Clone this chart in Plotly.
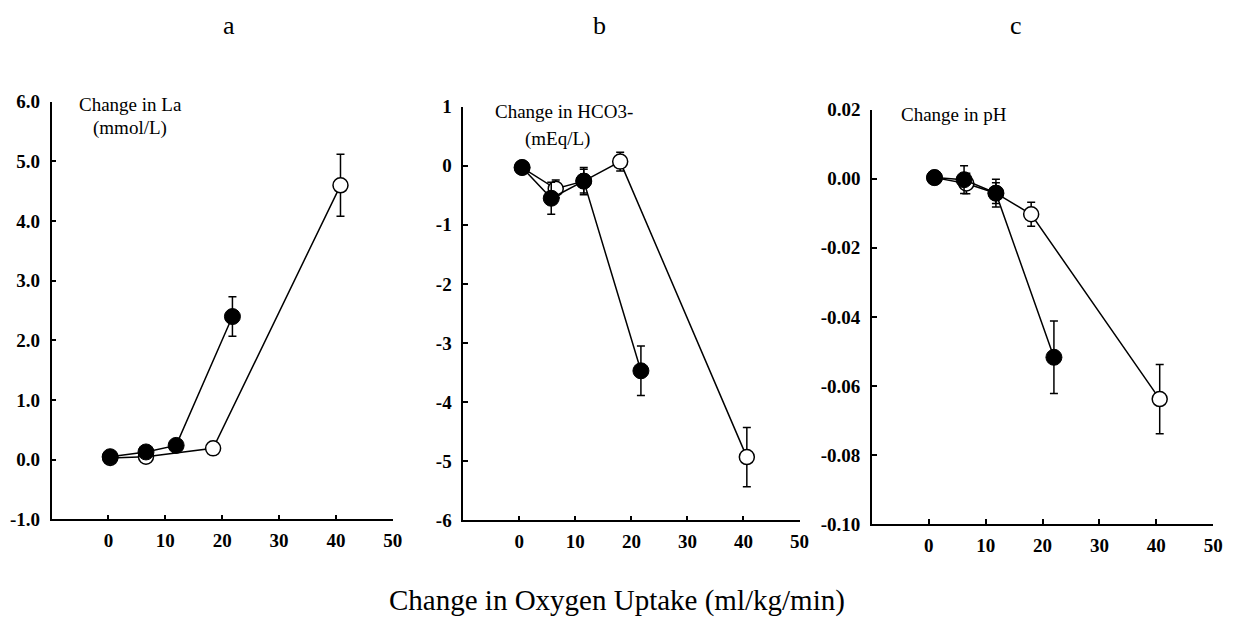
import plotly.graph_objects as go

# ---------------- data ----------------
# Panel a: Change in La (mmol/L)
a_fill_x = [0.3, 6.6, 11.9, 21.8]
a_fill_y = [0.05, 0.13, 0.24, 2.40]
a_fill_err = [0.03, 0.04, 0.05, 0.33]
a_fill_xerr = [0, 0, 0, 0.8]
a_open_x = [0.3, 6.6, 18.4, 40.8]
a_open_y = [0.03, 0.05, 0.19, 4.60]
a_open_err = [0.0, 0.03, 0.05, 0.52]

# Panel b: Change in HCO3- (mEq/L)
b_fill_x = [0.5, 5.7, 11.5, 21.7]
b_fill_y = [-0.03, -0.55, -0.26, -3.47]
b_fill_err = [0.05, 0.27, 0.23, 0.42]
b_fill_xerr = [0, 0, 0, 0.8]
b_open_x = [0.5, 6.5, 11.5, 18.0, 40.6]
b_open_y = [-0.03, -0.39, -0.26, 0.07, -4.93]
b_open_err = [0.05, 0.15, 0.20, 0.16, 0.50]

# Panel c: Change in pH
c_fill_x = [1.0, 6.2, 11.8, 22.0]
c_fill_y = [0.0003, -0.0003, -0.0042, -0.0517]
c_fill_err = [0.001, 0.004, 0.004, 0.0105]
c_fill_xerr = [0, 0, 0, 0.8]
c_open_x = [1.0, 6.6, 11.8, 18.0, 40.6]
c_open_y = [0.0003, -0.0014, -0.0042, -0.0103, -0.0638]
c_open_err = [0.001, 0.003, 0.003, 0.0035, 0.010]

x_ticks = [0, 10, 20, 30, 40, 50]
a_yticks = [-1, 0, 1, 2, 3, 4, 5, 6]
a_ylabels = ["-1.0", "0.0", "1.0", "2.0", "3.0", "4.0", "5.0", "6.0"]
b_yticks = [1, 0, -1, -2, -3, -4, -5, -6]
b_ylabels = ["1", "0", "-1", "-2", "-3", "-4", "-5", "-6"]
c_yticks = [0.02, 0.0, -0.02, -0.04, -0.06, -0.08, -0.10]
c_ylabels = ["0.02", "0.00", "-0.02", "-0.04", "-0.06", "-0.08", "-0.10"]

panel_letters = ["a", "b", "c"]
x_title = "Change in Oxygen Uptake (ml/kg/min)"

# ---------------- figure ----------------
SERIF = "Liberation Serif"
W, H = 1244, 627
fig = go.Figure()

LINE = dict(color="black", width=1.5)


def add_panel(n, ox, oy, oerr, fx, fy, ferr, fxerr):
    xa = "x" if n == 1 else f"x{n}"
    ya = "y" if n == 1 else f"y{n}"
    fig.add_trace(go.Scatter(
        x=ox, y=oy, mode="lines+markers", xaxis=xa, yaxis=ya,
        line=LINE,
        marker=dict(symbol="circle", size=15, color="white",
                    line=dict(color="black", width=1.5)),
        error_y=dict(type="data", array=oerr, color="black", thickness=1.5, width=4),
        showlegend=False, hoverinfo="skip"))
    fig.add_trace(go.Scatter(
        x=fx, y=fy, mode="lines+markers", xaxis=xa, yaxis=ya,
        line=LINE,
        marker=dict(symbol="circle", size=16, color="black",
                    line=dict(color="black", width=1)),
        error_y=dict(type="data", array=ferr, color="black", thickness=1.5, width=4),
        error_x=dict(type="data", array=fxerr, color="black", thickness=1.5, width=3),
        showlegend=False, hoverinfo="skip"))


add_panel(1, a_open_x, a_open_y, a_open_err, a_fill_x, a_fill_y, a_fill_err, a_fill_xerr)
add_panel(2, b_open_x, b_open_y, b_open_err, b_fill_x, b_fill_y, b_fill_err, b_fill_xerr)
add_panel(3, c_open_x, c_open_y, c_open_err, c_fill_x, c_fill_y, c_fill_err, c_fill_xerr)

tickfont = dict(family=SERIF, size=19, color="black", weight="bold")
xcommon = dict(range=[-10, 50], tickvals=x_ticks, ticks="inside", ticklen=5,
               tickwidth=1.5, tickcolor="black", showline=True, linecolor="black",
               linewidth=1.5, showgrid=False, zeroline=False, tickfont=tickfont,
               ticklabelstandoff=3, fixedrange=True)
ycommon = dict(ticks="inside", ticklen=5, tickwidth=1.5, tickcolor="black",
               showline=True, linecolor="black", linewidth=1.5, showgrid=False,
               zeroline=False, tickfont=tickfont, ticklabelstandoff=6, fixedrange=True)

fig.update_layout(
    width=W, height=H,
    margin=dict(l=0, r=0, t=0, b=0),
    paper_bgcolor="white", plot_bgcolor="white",
    xaxis=dict(domain=[52 / W, 396 / W], anchor="y", **xcommon),
    yaxis=dict(domain=[1 - 527 / H, 1 - 95 / H], anchor="x", range=[-1, 6],
               tickvals=a_yticks, ticktext=a_ylabels, **ycommon),
    xaxis2=dict(domain=[467 / W, 806 / W], anchor="y2", **xcommon),
    yaxis2=dict(domain=[1 - 528 / H, 1 - 100 / H], anchor="x2", range=[-6, 1],
                tickvals=b_yticks, ticktext=b_ylabels, **ycommon),
    xaxis3=dict(domain=[879 / W, 1223 / W], anchor="y3", **xcommon),
    yaxis3=dict(domain=[1 - 532 / H, 1 - 103 / H], anchor="x3", range=[-0.10, 0.02],
                tickvals=c_yticks, ticktext=c_ylabels, **ycommon),
)

ann_font = dict(family=SERIF, size=19, color="black")
annotations = [
    dict(text="Change in La", x=3.8, y=5.96, xref="x", yref="y", showarrow=False, font=ann_font),
    dict(text="(mmol/L)", x=3.7, y=5.56, xref="x", yref="y", showarrow=False, font=ann_font),
    dict(text="Change in HCO3-", x=8.0, y=0.92, xref="x2", yref="y2", showarrow=False, font=ann_font),
    dict(text="(mEq/L)", x=6.9, y=0.45, xref="x2", yref="y2", showarrow=False, font=ann_font),
    dict(text="Change in pH", x=4.5, y=0.0185, xref="x3", yref="y3", showarrow=False, font=ann_font),
]
for letter, px in zip(panel_letters, [231, 604, 1024]):
    annotations.append(dict(text=letter, x=px / W, y=1 - 16 / H, xref="paper", yref="paper",
                            xanchor="center", yanchor="middle", showarrow=False,
                            font=dict(family=SERIF, size=26, color="black")))
annotations.append(dict(text=x_title, x=622 / W, y=1 - 611 / H, xref="paper", yref="paper",
                        xanchor="center", yanchor="middle", showarrow=False,
                        font=dict(family=SERIF, size=29, color="black")))
fig.update_layout(annotations=annotations)

fig.write_html("out.html")
